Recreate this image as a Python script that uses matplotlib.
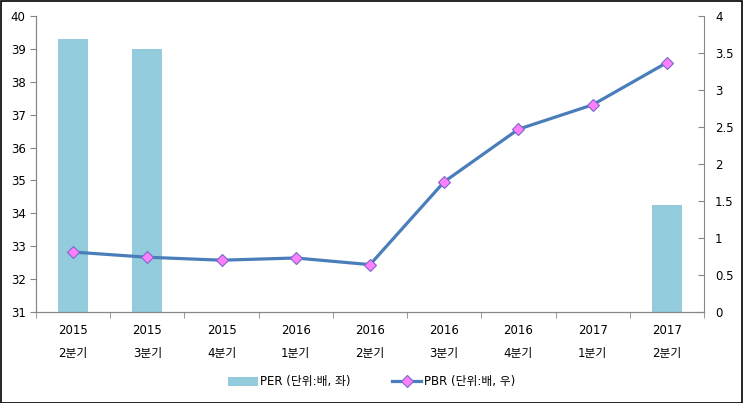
import numpy as np
import matplotlib.pyplot as plt
from matplotlib.lines import Line2D
from matplotlib.patches import Patch

plt.rcParams['font.family'] = ['DejaVu Sans', 'Noto Sans CJK KR']

# data
years = ['2015', '2015', '2015', '2016', '2016', '2016', '2016', '2017', '2017']
quarters = ['2분기', '3분기', '4분기', '1분기', '2분기', '3분기', '4분기', '1분기', '2분기']
per = [39.3, 39.0, np.nan, np.nan, np.nan, np.nan, np.nan, np.nan, 34.25]  # below 31 not shown
pbr = [0.81, 0.74, 0.70, 0.73, 0.64, 1.76, 2.47, 2.80, 3.37]

bar_color = '#93cddd'
line_color = '#4a7ebb'
axis_color = '#868686'

fig = plt.figure(figsize=(7.43, 4.03), dpi=100)
ax = fig.add_axes([36 / 743, 1 - 312 / 403, 668 / 743, 296 / 403])
ax2 = ax.twinx()

x = np.arange(len(years))
ax.bar(x, per, width=0.4, color=bar_color, zorder=2)
ax2.plot(x, pbr, color=line_color, lw=2.3, marker='D', ms=6,
         markerfacecolor='#ff7fff', markeredgecolor='#7b68c8', markeredgewidth=0.8, zorder=3)

ax.set_xlim(-0.5, len(years) - 0.5)
ax.set_ylim(31, 40)
ax.set_yticks(range(31, 41))
ax2.set_ylim(0, 4)
ax2.set_yticks(np.arange(0, 4.01, 0.5))
ax2.set_yticklabels(['0', '0.5', '1', '1.5', '2', '2.5', '3', '3.5', '4'])

ax.set_xticks(x)
ax.set_xticklabels([f'{y}\n{q}' for y, q in zip(years, quarters)], linespacing=1.9)
ax.set_xticks(np.arange(-0.5, len(years)), minor=True)
ax.tick_params(axis='x', which='major', length=0, pad=9, labelsize=8.5)
ax.tick_params(axis='x', which='minor', length=4, color=axis_color, direction='out')
ax.tick_params(axis='y', length=4, color=axis_color, labelsize=8.5, direction='out')
ax2.tick_params(axis='y', length=4, color=axis_color, labelsize=8.5, direction='in', pad=8)

for a in (ax, ax2):
    a.spines['top'].set_visible(False)
    for s in ('left', 'right', 'bottom'):
        a.spines[s].set_color(axis_color)
ax.spines['right'].set_visible(False)

handles = [Patch(facecolor=bar_color, edgecolor='none'),
           Line2D([], [], color=line_color, lw=2.3, marker='D', ms=6,
                  markerfacecolor='#ff7fff', markeredgecolor='#7b68c8', markeredgewidth=0.8)]
fig.legend(handles, ['PER (단위:배, 좌)', 'PBR (단위:배, 우)'], loc='center',
           bbox_to_anchor=(0.5, 1 - 382 / 403), ncol=2, frameon=False, fontsize=8.5,
           columnspacing=3.5, handlelength=2.5, handletextpad=0.2)

fig.patches.append(plt.Rectangle((0.5 / 743, 0.5 / 403), 1 - 1.5 / 743, 1 - 1.5 / 403,
                                 transform=fig.transFigure, fill=False, edgecolor='black', lw=1.2))

fig.savefig('out.png', dpi=100)
